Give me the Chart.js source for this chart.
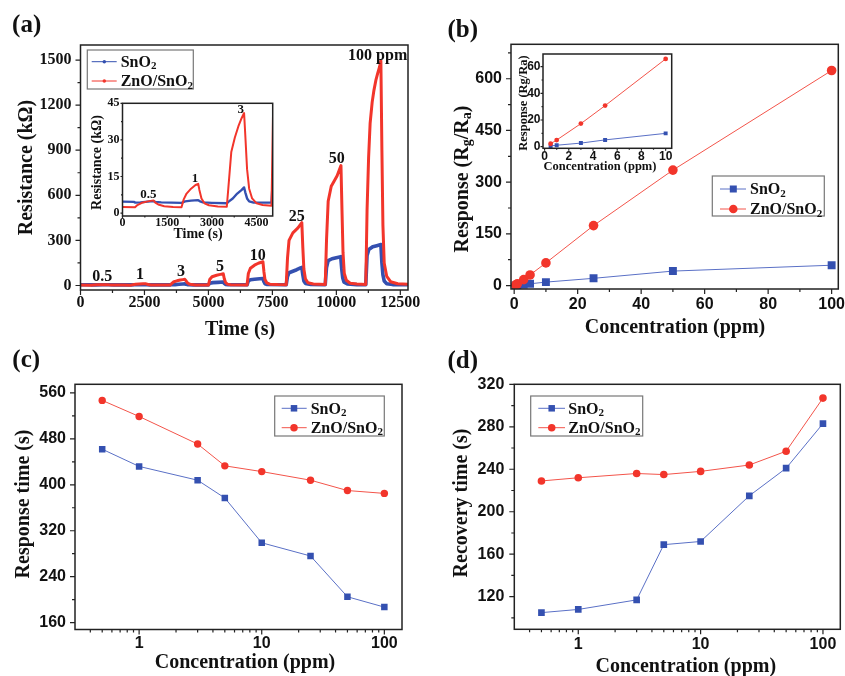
<!DOCTYPE html>
<html>
<head>
<meta charset="utf-8">
<script src="https://cdn.jsdelivr.net/npm/chart.js@4.4.0/dist/chart.umd.min.js"></script>
<style>
  html, body { margin: 0; padding: 0; background: #fff; }
  #wrap { position: relative; width: 845px; height: 676px; overflow: hidden; }
  #wrap canvas { position: absolute; left: 0; top: 0; }
</style>
</head>
<body>
<div id="wrap">
  <canvas id="cA" width="845" height="676"></canvas>
  <canvas id="cAi" width="845" height="676"></canvas>
  <canvas id="cB" width="845" height="676"></canvas>
  <canvas id="cBi" width="845" height="676"></canvas>
  <canvas id="cC" width="845" height="676"></canvas>
  <canvas id="cD" width="845" height="676"></canvas>
</div>
<script>
// (a) resistance transients
const timeSnO2 = [0, 380, 430, 600, 850, 1040, 1100, 1300, 1980,
  2100, 2300, 2540, 2600, 2700, 3000, 3500,
  3550, 3700, 3850, 4000, 4080, 4120, 4180, 4250, 4400, 5000,
  5050, 5170, 5370, 5580, 5620, 5670, 5770, 6510,
  6560, 6640, 6800, 7000, 7130, 7170, 7210, 7300, 8040,
  8090, 8150, 8300, 8450, 8600, 8650, 8690, 8730, 8790, 9000, 9565,
  9615, 9680, 9830, 10000, 10170, 10210, 10250, 10300, 10430, 10800, 11150,
  11200, 11270, 11420, 11580, 11740, 11780, 11820, 11870, 11970, 12200, 12800];
const resSnO2 = [4.7, 4.6, 4.3, 4.4, 4.7, 4.9, 4.6, 4.4, 4.2,
  4.8, 5.1, 5.3, 4.8, 4.4, 4.2, 4.0,
  4.6, 6.0, 8.0, 9.5, 10.5, 8.5, 6.0, 4.8, 4.3, 4.3,
  15, 19, 21, 23, 14, 7, 5, 4.5,
  30, 38, 42, 45, 47, 25, 12, 7, 5,
  60, 85, 95, 105, 117, 120, 70, 30, 14, 7, 5,
  120, 165, 178, 185, 192, 110, 50, 22, 10, 6, 5,
  200, 240, 258, 265, 272, 150, 70, 30, 12, 6, 5];
const timeZnO = [0, 420, 500, 650, 850, 1040, 1100, 1200, 1400, 1700, 1980,
  2050, 2150, 2300, 2450, 2540, 2580, 2650, 2750, 2900, 3200, 3500,
  3550, 3650, 3770, 3900, 4000, 4080, 4120, 4180, 4250, 4350, 4500, 4700, 5000,
  5050, 5140, 5320, 5470, 5580, 5620, 5670, 5740, 5870, 6510,
  6560, 6640, 6800, 6950, 7130, 7170, 7210, 7280, 7400, 7700, 8040,
  8090, 8150, 8300, 8500, 8650, 8690, 8730, 8790, 8890, 9100, 9565,
  9615, 9680, 9800, 9900, 10030, 10180, 10220, 10260, 10310, 10390, 10540, 10800, 11150,
  11200, 11260, 11320, 11400, 11470, 11550, 11620, 11690, 11740, 11780, 11820, 11870, 11970, 12120, 12400, 12800];
const resZnO = [2.5, 2.4, 3.3, 4.2, 4.8, 5.2, 4.3, 3.5, 2.8, 2.5, 2.4,
  5.5, 8, 10, 11.5, 12, 9.5, 6, 4, 3.2, 2.7, 2.6,
  10, 25, 31, 36, 39, 41, 32, 18, 10, 6, 4, 3.3, 3,
  40, 58, 68, 74, 78, 45, 20, 9, 5, 4,
  80, 115, 135, 148, 158, 90, 40, 18, 9, 6, 5,
  180, 300, 350, 383, 418, 250, 110, 45, 18, 10, 6,
  300, 560, 660, 690, 730, 798, 500, 220, 80, 35, 15, 10, 7,
  500, 850, 1080, 1220, 1300, 1370, 1415, 1455, 1495, 900, 400, 150, 60, 25, 12, 8];
const pulseLabels = ['0.5', '1', '3', '5', '10', '25', '50', '100 ppm'];
const pulseLabelT = [852, 2325, 3927, 5451, 6925, 8449, 10012, 11614];
const pulseLabelR = [63, 77, 96, 130, 208, 462, 853, 1534];
const insetLabels = ['0.5', '1', '3'];
const insetLabelT = [866, 2433, 3966];
const insetLabelR = [7.8, 14.3, 42.7];

// (b) response vs concentration
const conc = [0.5, 1, 3, 5, 10, 25, 50, 100];
const respSnO2 = [0.6, 1.1, 2.7, 5.1, 10, 21, 42, 59];
const respZnO = [2.2, 5, 17.3, 30.8, 65.8, 174, 335, 624];

// (c) response time, (d) recovery time
const respTimeSnO2 = [462, 432, 408, 377, 299, 276, 205, 187];
const respTimeZnO = [547, 519, 471, 433, 423, 408, 390, 385];
const recTimeSnO2 = [105, 108, 117, 169, 172, 215, 241, 283];
const recTimeZnO = [229, 232, 236, 235, 238, 244, 257, 307];

// tick labels
const tickA_x = [0, 2500, 5000, 7500, 10000, 12500];
const tickA_y = [0, 300, 600, 900, 1200, 1500];
const tickAi_x = [0, 1500, 3000, 4500];
const tickAi_y = [0, 15, 30, 45];
const tickB_x = [0, 20, 40, 60, 80, 100];
const tickB_y = [0, 150, 300, 450, 600];
const tickBi_x = [0, 2, 4, 6, 8, 10];
const tickBi_y = [0, 20, 40, 60];
const tickLog = [1, 10, 100];
const logMinor = [0.4, 0.5, 0.6, 0.7, 0.8, 0.9, 2, 3, 4, 5, 6, 7, 8, 9, 20, 30, 40, 50, 60, 70, 80, 90];
const tickC_y = [160, 240, 320, 400, 480, 560];
const tickD_y = [120, 160, 200, 240, 280, 320];

const W = 845, H = 676;
const SERIF = '"Liberation Serif", "Times New Roman", serif';
const SANS = '"Liberation Sans", Arial, sans-serif';
const BLUE = '#3450b0', RED = '#f2352b';
const BLUE_L = '#5a70c6', RED_L = '#f3544a';
const nameSn = [{ t: 'SnO' }, { t: '2', sub: true }];
const nameZn = [{ t: 'ZnO/SnO' }, { t: '2', sub: true }];

function halves(ticks, min, max) {
  const step = ticks[1] - ticks[0], out = [];
  for (let v = ticks[0] - step / 2; v <= max; v += step) if (v >= min) out.push(v);
  return out;
}

function drawRich(ctx, parts, x, y, size, fam, align) {
  const fonts = parts.map(p => `bold ${p.sub ? Math.round(size * 0.68) : size}px ${fam}`);
  const widths = parts.map((p, i) => { ctx.font = fonts[i]; return ctx.measureText(p.t).width; });
  const total = widths.reduce((a, b) => a + b, 0);
  let cx = align === 'left' ? x : x - total / 2;
  const base = y + size * 0.33;
  ctx.textAlign = 'left';
  ctx.textBaseline = 'alphabetic';
  parts.forEach((p, i) => {
    ctx.font = fonts[i];
    ctx.fillText(p.t, cx, base + (p.sub ? size * 0.14 : 0));
    cx += widths[i];
  });
}

function deco(conf) {
  return {
    id: 'deco',
    beforeDatasetsDraw(chart) {
      if (!conf.bg) return;
      const a = chart.chartArea, ctx = chart.ctx;
      ctx.save();
      ctx.fillStyle = '#fff';
      ctx.fillRect(a.left, a.top, a.right - a.left, a.bottom - a.top);
      ctx.restore();
    },
    afterDatasetsDraw(chart) {
      const { ctx, chartArea: a, scales: { x, y } } = chart;
      ctx.save();
      ctx.strokeStyle = '#222';
      ctx.lineWidth = 1.5;
      ctx.strokeRect(a.left, a.top, a.right - a.left, a.bottom - a.top);

      // tick marks, major and minor
      ctx.lineWidth = 1.2;
      ctx.beginPath();
      const xt = (v, len) => { const p = x.getPixelForValue(v); ctx.moveTo(p, a.bottom); ctx.lineTo(p, a.bottom + len); };
      const yt = (v, len) => { const p = y.getPixelForValue(v); ctx.moveTo(a.left, p); ctx.lineTo(a.left - len, p); };
      x.ticks.forEach(t => xt(t.value, conf.major));
      conf.minorX.forEach(v => xt(v, conf.minor));
      y.ticks.forEach(t => yt(t.value, conf.major));
      conf.minorY.forEach(v => yt(v, conf.minor));
      ctx.stroke();

      if (conf.legend) {
        const L = conf.legend;
        ctx.strokeStyle = '#777';
        ctx.lineWidth = 1.2;
        ctx.strokeRect(L.box[0], L.box[1], L.box[2] - L.box[0], L.box[3] - L.box[1]);
        L.rows.forEach((r, i) => {
          const ds = chart.data.datasets[i];
          ctx.strokeStyle = ds.borderColor;
          ctx.lineWidth = 1;
          ctx.beginPath();
          ctx.moveTo(L.line[0], r.y);
          ctx.lineTo(L.line[1], r.y);
          ctx.stroke();
          ctx.fillStyle = ds.pointBackgroundColor || ds.borderColor;
          if (r.style === 'rect') {
            ctx.fillRect(L.mx - r.size / 2, r.y - r.size / 2, r.size, r.size);
          } else {
            ctx.beginPath();
            ctx.arc(L.mx, r.y, r.size / 2, 0, Math.PI * 2);
            ctx.fill();
          }
          ctx.fillStyle = '#111';
          drawRich(ctx, r.parts, L.tx, r.y, 16, SERIF, 'left');
        });
      }

      if (conf.notes) {
        const N = conf.notes;
        ctx.fillStyle = '#111';
        N.labels.forEach((s, i) => {
          drawRich(ctx, [{ t: s }], x.getPixelForValue(N.xs[i]), y.getPixelForValue(N.ys[i]), N.size, SERIF, 'center');
        });
      }

      (conf.texts || []).forEach(tx => {
        ctx.save();
        ctx.fillStyle = '#111';
        ctx.translate(tx.x, tx.y);
        if (tx.rot) ctx.rotate(-Math.PI / 2);
        drawRich(ctx, tx.parts || [{ t: tx.t }], 0, 0, tx.size, tx.fam || SERIF, 'center');
        ctx.restore();
      });
      ctx.restore();
    }
  };
}

function axis(o, dir, size) {
  return {
    type: o.type || 'linear',
    position: dir === 'x' ? 'bottom' : 'left',
    min: o.min,
    max: o.max,
    grid: { display: false, drawTicks: false },
    border: { display: false },
    title: { display: false },
    afterBuildTicks: s => { s.ticks = o.ticks.map(v => ({ value: v })); },
    afterFit: s => {
      if (dir === 'x') s.height = size; else s.width = size;
      s.paddingLeft = s.paddingRight = s.paddingTop = s.paddingBottom = 0;
    },
    ticks: {
      font: { family: o.fam, size: o.size, weight: 'bold', lineHeight: 1 },
      color: '#111',
      padding: o.pad,
      maxRotation: 0,
      minRotation: 0,
      autoSkip: false,
      callback: v => String(v)
    }
  };
}

function makeChart(id, o) {
  const [l, t, r, b] = o.area;
  return new Chart(document.getElementById(id), {
    type: 'line',
    data: { datasets: o.datasets },
    options: {
      responsive: false,
      animation: false,
      events: [],
      layout: { padding: { left: 0, top: t, right: W - r, bottom: 0 } },
      plugins: { legend: { display: false }, tooltip: { enabled: false } },
      scales: { x: axis(o.x, 'x', H - b), y: axis(o.y, 'y', l) }
    },
    plugins: [deco(o.deco)]
  });
}

const pairs = (xs, ys) => xs.map((v, i) => ({ x: v, y: ys[i] }));

function traceSets(width) {
  return [
    { data: pairs(timeSnO2, resSnO2), borderColor: BLUE, borderWidth: width * 1.2, pointRadius: 0, tension: 0, order: 1, clip: 0, borderJoinStyle: 'round' },
    { data: pairs(timeZnO, resZnO), borderColor: RED, borderWidth: width, pointRadius: 0, tension: 0, order: 0, clip: 0, borderJoinStyle: 'round' }
  ];
}

function markerSets(xs, sn, zn, rSq, rCi) {
  return [
    { data: pairs(xs, sn), borderColor: BLUE_L, borderWidth: 1, pointStyle: 'rect', pointRadius: rSq, pointBackgroundColor: BLUE, pointBorderWidth: 0, tension: 0, order: 1 },
    { data: pairs(xs, zn), borderColor: RED_L, borderWidth: 1, pointStyle: 'circle', pointRadius: rCi, pointBackgroundColor: RED, pointBorderWidth: 0, tension: 0, order: 0 }
  ];
}

// (a) main
makeChart('cA', {
  area: [80.5, 45, 408, 290],
  datasets: traceSets(3),
  x: { min: 0, max: 12800, ticks: tickA_x, fam: SERIF, size: 16, pad: 5 },
  y: { min: -30, max: 1600, ticks: tickA_y, fam: SERIF, size: 16, pad: 9 },
  deco: {
    major: 5, minor: 3,
    minorX: halves(tickA_x, 0, 12800), minorY: halves(tickA_y, -30, 1600),
    legend: {
      box: [87.3, 50, 193.3, 89], line: [91.7, 116.7], mx: 104.3, tx: 120.7,
      rows: [{ y: 61.7, style: 'circle', size: 3.5, parts: nameSn }, { y: 81, style: 'circle', size: 3.5, parts: nameZn }]
    },
    notes: { labels: pulseLabels, xs: pulseLabelT, ys: pulseLabelR, size: 16 },
    texts: [
      { t: '(a)', x: 26.7, y: 23.3, size: 25 },
      { t: 'Resistance (kΩ)', x: 25, y: 167.5, size: 20, rot: true },
      { t: 'Time (s)', x: 240, y: 328.3, size: 20 }
    ]
  }
});

// (a) inset
makeChart('cAi', {
  area: [122.5, 103.3, 272.7, 216],
  datasets: traceSets(2),
  x: { min: 0, max: 5040, ticks: tickAi_x, fam: SERIF, size: 12, pad: 1 },
  y: { min: -1.2, max: 45, ticks: tickAi_y, fam: SERIF, size: 12, pad: 3 },
  deco: {
    bg: true, major: 2, minor: 1.5,
    minorX: halves(tickAi_x, 0, 5040), minorY: halves(tickAi_y, -1.2, 45),
    notes: { labels: insetLabels, xs: insetLabelT, ys: insetLabelR, size: 13 },
    texts: [
      { t: 'Resistance (kΩ)', x: 96.7, y: 162.5, size: 14, rot: true },
      { t: 'Time (s)', x: 198, y: 233.3, size: 14 }
    ]
  }
});

// (b) main
makeChart('cB', {
  area: [511, 44.3, 838.3, 289],
  datasets: markerSets(conc, respSnO2, respZnO, 5.6, 4.8),
  x: { min: -1, max: 102.1, ticks: tickB_x, fam: SANS, size: 16, pad: 8 },
  y: { min: -10, max: 700, ticks: tickB_y, fam: SANS, size: 16, pad: 9 },
  deco: {
    major: 5, minor: 3,
    minorX: halves(tickB_x, -1, 102.1), minorY: halves(tickB_y, -10, 700),
    legend: {
      box: [712.3, 176, 824.3, 216], line: [720, 746], mx: 733.3, tx: 750,
      rows: [{ y: 189, style: 'rect', size: 7, parts: nameSn }, { y: 209, style: 'circle', size: 8.5, parts: nameZn }]
    },
    texts: [
      { t: '(b)', x: 462.7, y: 29.2, size: 25 },
      { parts: [{ t: 'Response (R' }, { t: 'g', sub: true }, { t: '/R' }, { t: 'a', sub: true }, { t: ')' }], x: 461.7, y: 179, size: 20, rot: true },
      { t: 'Concentration (ppm)', x: 675, y: 326.7, size: 20 }
    ]
  }
});

// (b) inset
makeChart('cBi', {
  area: [543, 54, 671.7, 148.3],
  datasets: markerSets(conc.slice(0, 5), respSnO2.slice(0, 5), respZnO.slice(0, 5), 2.8, 2.4),
  x: { min: -0.13, max: 10.5, ticks: tickBi_x, fam: SANS, size: 12, pad: 2 },
  y: { min: -1.2, max: 69.5, ticks: tickBi_y, fam: SANS, size: 12, pad: 2.5 },
  deco: {
    bg: true, major: 2.5, minor: 1.5,
    minorX: halves(tickBi_x, -0.13, 10.5), minorY: halves(tickBi_y, -1.2, 69.5),
    texts: [
      { t: 'Response (Rg/Ra)', x: 522.5, y: 103, size: 12.5, rot: true },
      { t: 'Concentration (ppm)', x: 600, y: 165.5, size: 12.5 }
    ]
  }
});

// (c)
makeChart('cC', {
  area: [75, 384.3, 402, 629.5],
  datasets: markerSets(conc, respTimeSnO2, respTimeZnO, 4.6, 3.7),
  x: { type: 'logarithmic', min: 0.3042, max: 139.3, ticks: tickLog, fam: SANS, size: 16, pad: 6 },
  y: { min: 148, max: 575, ticks: tickC_y, fam: SANS, size: 16, pad: 9 },
  deco: {
    major: 5, minor: 3,
    minorX: logMinor, minorY: halves(tickC_y, 148, 575),
    legend: {
      box: [274.7, 396, 384.3, 436], line: [281.7, 306.7], mx: 294, tx: 310.7,
      rows: [{ y: 408.3, style: 'rect', size: 6.5, parts: nameSn }, { y: 427.7, style: 'circle', size: 7.5, parts: nameZn }]
    },
    texts: [
      { t: '(c)', x: 26.2, y: 358.3, size: 25 },
      { t: 'Response time (s)', x: 22, y: 504, size: 20, rot: true },
      { t: 'Concentration (ppm)', x: 245, y: 661.7, size: 20 }
    ]
  }
});

// (d)
makeChart('cD', {
  area: [514.3, 384.3, 840.7, 629.3],
  datasets: markerSets(conc, recTimeSnO2, recTimeZnO, 4.7, 3.8),
  x: { type: 'logarithmic', min: 0.3046, max: 138.6, ticks: tickLog, fam: SANS, size: 16, pad: 7 },
  y: { min: 89.3, max: 320, ticks: tickD_y, fam: SANS, size: 16, pad: 10 },
  deco: {
    major: 5, minor: 3,
    minorX: logMinor, minorY: halves(tickD_y, 89.3, 320),
    legend: {
      box: [530.7, 396, 642.7, 436], line: [538.3, 565], mx: 551.7, tx: 568.3,
      rows: [{ y: 408.3, style: 'rect', size: 6.5, parts: nameSn }, { y: 427.7, style: 'circle', size: 7.5, parts: nameZn }]
    },
    texts: [
      { t: '(d)', x: 462.7, y: 359.3, size: 25 },
      { t: 'Recovery time (s)', x: 460, y: 503, size: 20, rot: true },
      { t: 'Concentration (ppm)', x: 685.8, y: 665, size: 20 }
    ]
  }
});
</script>
</body>
</html>
